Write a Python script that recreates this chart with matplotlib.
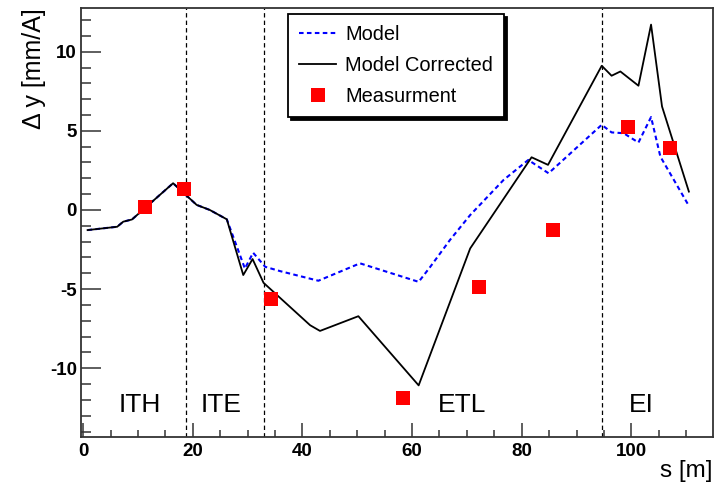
import matplotlib
matplotlib.use("Agg")
import matplotlib.pyplot as plt
from matplotlib.ticker import MultipleLocator

plt.rcParams['font.family'] = ['Liberation Sans', 'DejaVu Sans']
plt.rcParams['axes.unicode_minus'] = False

# ---- data ----
model_s = [0.8, 6.2, 7.3, 8.9, 16.4, 20.7, 23.1, 26.2, 29.5, 31.0, 33.2, 35.9,
           42.9, 50.5, 61.2, 63.3, 66.9, 70.6, 76.7, 81.2, 84.9, 94.6, 96.4,
           98.6, 101.3, 103.6, 105.3, 110.4]
model_y = [-1.27, -1.06, -0.74, -0.6, 1.69, 0.32, 0.0, -0.59, -3.7, -2.7, -3.59,
           -3.86, -4.47, -3.37, -4.54, -3.6, -1.9, -0.32, 1.9, 3.16, 2.32, 5.38,
           4.9, 4.85, 4.26, 5.87, 3.37, 0.32]

corr_s = [0.8, 6.2, 7.3, 8.9, 16.4, 20.7, 23.1, 26.2, 29.2, 30.9, 32.9, 41.4,
          43.2, 50.2, 61.2, 70.6, 81.8, 84.8, 94.6, 96.4, 98.0, 101.3, 103.6,
          105.6, 110.5]
corr_y = [-1.27, -1.06, -0.74, -0.6, 1.69, 0.32, 0.0, -0.59, -4.11, -3.1, -4.6,
          -7.28, -7.64, -6.71, -11.08, -2.43, 3.33, 2.85, 9.11, 8.48, 8.75, 7.85,
          11.71, 6.54, 1.16]

meas_s = [11.2, 18.4, 34.3, 58.3, 72.2, 85.7, 99.4, 107.1]
meas_y = [0.2, 1.33, -5.65, -11.9, -4.87, -1.27, 5.23, 3.94]

boundaries = [18.8, 33.0, 94.7]
region_names = ["ITH", "ITE", "ETL", "EI"]
region_s = [10.3, 25.1, 69.2, 101.8]
region_y = -12.3

# ---- figure ----
fig = plt.figure(figsize=(7.15, 4.87), dpi=100)
ax = fig.add_axes([0.1133, 0.1027, 0.9972 - 0.1133, 0.9836 - 0.1027])

for b in boundaries:
    ax.axvline(b, color='black', lw=0.9, linestyle=(0, (3.5, 2.5)), zorder=1)

ax.plot(model_s, model_y, color='#0000ff', lw=1.5, linestyle=(0, (2.2, 1.6)),
        label='Model', zorder=2)
ax.plot(corr_s, corr_y, color='black', lw=1.3, label='Model Corrected', zorder=3)
ax.plot(meas_s, meas_y, linestyle='none', marker='s', markersize=10,
        color='#ff0000', markeredgewidth=0, label='Measurment', zorder=4)

for name, s in zip(region_names, region_s):
    ax.text(s, region_y, name, ha='center', va='center', fontsize=19,
            color='black')

ax.set_xlim(-0.4, 114.9)
ax.set_ylim(-14.34, 12.76)

ax.xaxis.set_major_locator(MultipleLocator(20))
ax.xaxis.set_minor_locator(MultipleLocator(5))
ax.yaxis.set_major_locator(MultipleLocator(5))
ax.yaxis.set_minor_locator(MultipleLocator(1))

spine_col = '#333333'
for sp in ax.spines.values():
    sp.set_color(spine_col)
    sp.set_linewidth(1.3)

ax.tick_params(axis='x', which='major', direction='in', length=10, width=1.1,
               color=spine_col, pad=4.5, labelsize=13.5, top=False)
ax.tick_params(axis='x', which='minor', direction='in', length=5, width=1.1,
               color=spine_col, top=False)
ax.tick_params(axis='y', which='major', direction='in', length=14.5, width=1.1,
               color=spine_col, pad=3, labelsize=13.5, right=False)
ax.tick_params(axis='y', which='minor', direction='in', length=7.5, width=1.1,
               color=spine_col, right=False)
for lab in ax.get_xticklabels() + ax.get_yticklabels():
    lab.set_fontweight('bold')

ax.set_xlabel('s [m]', fontsize=17.5, loc='right', labelpad=0)
ax.set_ylabel('Δ y [mm/A]', fontsize=18, loc='top', labelpad=3)

leg = ax.legend(loc='upper left', bbox_to_anchor=(0.328, 0.986), fontsize=14.4,
                frameon=True, fancybox=False, edgecolor='black',
                shadow={'color': 'black', 'alpha': 1.0}, framealpha=1.0,
                handlelength=1.85, handletextpad=0.45, borderpad=0.55,
                labelspacing=0.6, borderaxespad=0)
leg.get_frame().set_linewidth(1.3)

fig.savefig('out.png', dpi=100)
